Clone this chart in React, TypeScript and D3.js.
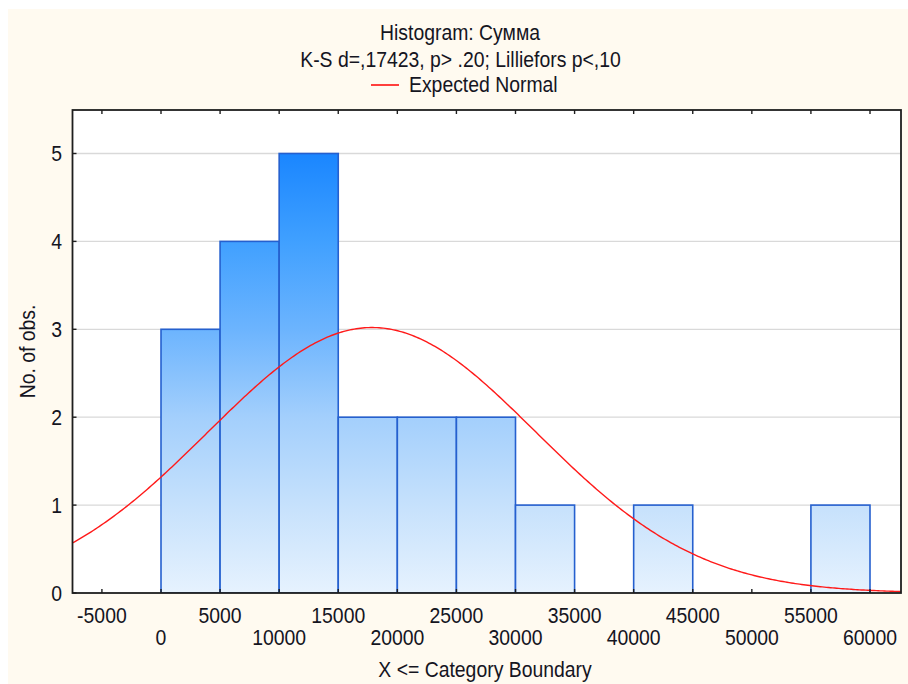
import React from "react";
import * as d3 from "d3";

// Histogram of "Сумма": counts per category, each category labelled by its upper boundary
const upperBounds = [5000, 10000, 15000, 20000, 25000, 30000, 35000, 40000, 45000, 50000, 55000, 60000];
const counts = [3, 4, 5, 2, 2, 2, 1, 0, 1, 0, 0, 1];
const binWidth = 5000;

// Fitted normal distribution
const normalMean = 17850;
const normalSd = 13870;

const xTickValues = [-5000, 0, 5000, 10000, 15000, 20000, 25000, 30000, 35000, 40000, 45000, 50000, 55000, 60000];
const yTickValues = [0, 1, 2, 3, 4, 5];

const titleLines = ["Histogram: Сумма", "K-S d=,17423, p> .20; Lilliefors p<,10"];
const legendLabel = "Expected Normal";
const xAxisTitle = "X <= Category Boundary";
const yAxisTitle = "No. of obs.";

const W = 908;
const H = 684;
const plot = { left: 72.5, right: 901, top: 110, bottom: 593 };
const FONT = "'Liberation Sans', Arial, sans-serif";
const FS = 19.4;
const STRETCH = 1.1;
const TEXT = "#15151f";

type TProps = {
  x: number;
  y: number;
  anchor?: "start" | "middle" | "end";
  rotate?: number;
  children: React.ReactNode;
};

// Text with the slightly tall glyph proportions of the screen font
function T({ x, y, anchor = "start", rotate = 0, children }: TProps) {
  const rot = rotate ? ` rotate(${rotate})` : "";
  return (
    <text
      transform={`translate(${x},${y})${rot} scale(1,${STRETCH})`}
      textAnchor={anchor}
      fontSize={FS}
      fill={TEXT}
    >
      {children}
    </text>
  );
}

export default function App() {
  const x = d3.scaleLinear().domain([0, 60000]).range([161, 870]);
  const y = d3.scaleLinear().domain([0, 5]).range([593, 153.5]);
  const xMin = x.invert(plot.left);
  const xMax = x.invert(plot.right);

  const n = d3.sum(counts);
  const expected = (v: number) =>
    (n * binWidth) / (normalSd * Math.sqrt(2 * Math.PI)) *
    Math.exp(-0.5 * ((v - normalMean) / normalSd) ** 2);

  const curvePts = d3.range(0, 401).map((i) => xMin + ((xMax - xMin) * i) / 400);
  const curve = d3
    .line<number>()
    .x((v) => x(v))
    .y((v) => y(expected(v)))(curvePts);

  const bars = upperBounds
    .map((ub, i) => ({ lo: ub - binWidth, hi: ub, c: counts[i] }))
    .filter((b) => b.c > 0);

  return (
    <svg
      width={W}
      height={H}
      style={{ position: "absolute", left: 0, top: 0, display: "block" }}
      fontFamily={FONT}
    >
      <defs>
        <linearGradient id="barFill" gradientUnits="userSpaceOnUse" x1="0" y1={y(5)} x2="0" y2={y(0)}>
          <stop offset="0" stopColor="#1a86ff" />
          <stop offset="0.2" stopColor="#40a0ff" />
          <stop offset="0.4" stopColor="#6cb4fe" />
          <stop offset="0.6" stopColor="#a3cffc" />
          <stop offset="0.8" stopColor="#c6e1fc" />
          <stop offset="1" stopColor="#e6f2fe" />
        </linearGradient>
        <clipPath id="plotClip">
          <rect x={plot.left} y={plot.top} width={plot.right - plot.left} height={plot.bottom - plot.top} />
        </clipPath>
      </defs>

      <rect x={8} y={9} width={W - 8} height={H - 9} fill="#fffaf0" />

      {/* titles and legend */}
      <T x={460} y={40} anchor="middle">{titleLines[0]}</T>
      <T x={460.5} y={66.5} anchor="middle">{titleLines[1]}</T>
      <line x1={371} x2={399} y1={85} y2={85} stroke="#ff0000" strokeWidth={1.5} />
      <T x={409} y={91.5}>{legendLabel}</T>

      {/* plot area */}
      <rect x={plot.left} y={plot.top} width={plot.right - plot.left} height={plot.bottom - plot.top} fill="#ffffff" />
      {yTickValues.filter((t) => t > 0).map((t) => (
        <line key={t} x1={plot.left} x2={plot.right} y1={y(t)} y2={y(t)} stroke="#d9d9d9" strokeWidth={1.3} />
      ))}

      <g clipPath="url(#plotClip)">
        {bars.map((b) => (
          <rect
            key={b.hi}
            x={x(b.lo)}
            y={y(b.c)}
            width={x(b.hi) - x(b.lo)}
            height={y(0) - y(b.c)}
            fill="url(#barFill)"
            stroke="#2560cf"
            strokeWidth={1.6}
          />
        ))}
        <path d={curve ?? ""} fill="none" stroke="#ff1a1a" strokeWidth={1.4} />
      </g>

      {/* frame and ticks */}
      <rect x={plot.left} y={plot.top} width={plot.right - plot.left} height={plot.bottom - plot.top} fill="none" stroke="#1e1e1e" strokeWidth={1.8} />
      {xTickValues.map((t) => (
        <g key={t}>
          <line x1={x(t)} x2={x(t)} y1={plot.bottom} y2={plot.bottom - 4} stroke="#1e1e1e" strokeWidth={1.4} />
          <line x1={x(t)} x2={x(t)} y1={plot.top} y2={plot.top + 4} stroke="#1e1e1e" strokeWidth={1.4} />
        </g>
      ))}
      {yTickValues.map((t) => (
        <line key={t} x1={plot.left} x2={plot.left + 4} y1={y(t)} y2={y(t)} stroke="#1e1e1e" strokeWidth={1.4} />
      ))}

      {/* tick labels: alternate boundaries on two rows */}
      {xTickValues.map((t, i) => (
        <T key={t} x={x(t)} y={i % 2 === 0 ? 622.5 : 645} anchor="middle">
          {t}
        </T>
      ))}
      {yTickValues.map((t) => (
        <T key={t} x={62} y={y(t) + 7.5} anchor="end">
          {t}
        </T>
      ))}

      {/* axis titles */}
      <T x={485} y={677} anchor="middle">{xAxisTitle}</T>
      <T x={34.5} y={(plot.top + plot.bottom) / 2} anchor="middle" rotate={-90}>
        {yAxisTitle}
      </T>
    </svg>
  );
}
